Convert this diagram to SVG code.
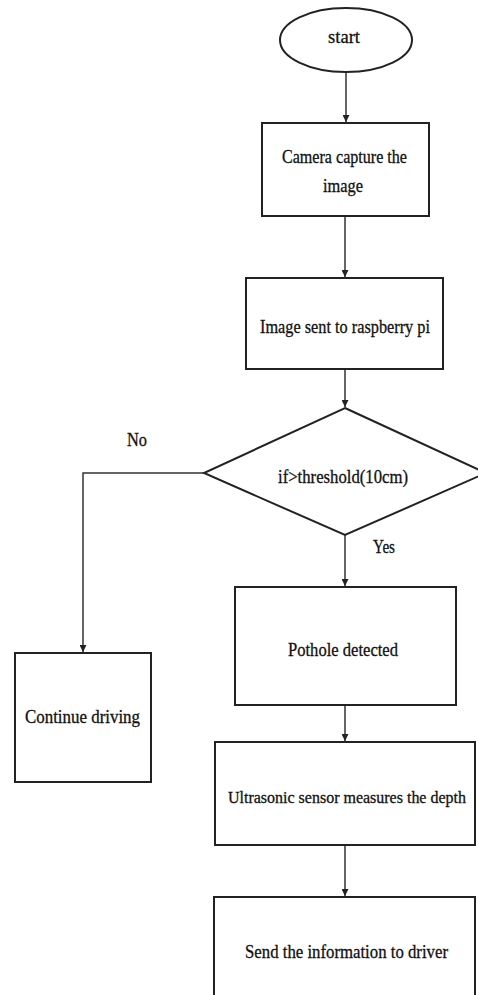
<svg xmlns="http://www.w3.org/2000/svg" width="478" height="995" viewBox="0 0 478 995">
<defs>
<marker id="arr" viewBox="0 0 10 10" refX="10" refY="5" markerWidth="7" markerHeight="7" markerUnits="userSpaceOnUse" orient="auto">
<path d="M0,0 L10,5 L0,10 z" fill="#222"/>
</marker>
<style>
.shape{fill:#fff;stroke:#222;stroke-width:2}
.conn{fill:none;stroke:#333;stroke-width:1.5}
text{font-family:"Liberation Serif","Times New Roman",serif;font-size:19px;fill:#111;stroke:#111;stroke-width:0.3}
</style>
</defs>
<rect width="478" height="995" fill="#fff"/>
<g id="connectors">
<line class="conn" x1="346" y1="72" x2="346" y2="122" marker-end="url(#arr)"/>
<line class="conn" x1="345" y1="216" x2="345" y2="277" marker-end="url(#arr)"/>
<line class="conn" x1="345" y1="370" x2="345" y2="407" marker-end="url(#arr)"/>
<line class="conn" x1="345" y1="535" x2="345" y2="586" marker-end="url(#arr)"/>
<line class="conn" x1="345" y1="705" x2="345" y2="741" marker-end="url(#arr)"/>
<line class="conn" x1="345" y1="845" x2="345" y2="896" marker-end="url(#arr)"/>
<polyline class="conn" points="204,473 83,473 83,652" marker-end="url(#arr)"/>
<text x="127" y="446" textLength="20" lengthAdjust="spacingAndGlyphs">No</text>
<text x="373" y="553" textLength="22" lengthAdjust="spacingAndGlyphs">Yes</text>
</g>
<g id="start">
<ellipse class="shape" cx="346" cy="40" rx="66" ry="32"/>
<text x="328" y="43" textLength="32" lengthAdjust="spacingAndGlyphs">start</text>
</g>
<g id="camera">
<rect class="shape" x="262" y="123" width="167" height="93"/>
<text x="282" y="163" textLength="125" lengthAdjust="spacingAndGlyphs">Camera capture the</text>
<text x="323" y="192" textLength="40" lengthAdjust="spacingAndGlyphs">image</text>
</g>
<g id="sent">
<rect class="shape" x="246" y="278" width="197" height="91"/>
<text x="260" y="333" textLength="170" lengthAdjust="spacingAndGlyphs">Image sent to raspberry pi</text>
</g>
<g id="decision">
<polygon class="shape" points="345,408 486,473 345,535 204,473"/>
<text x="278" y="483" textLength="130" lengthAdjust="spacingAndGlyphs">if&gt;threshold(10cm)</text>
</g>
<g id="pothole">
<rect class="shape" x="235" y="587" width="221" height="118"/>
<text x="288" y="656" textLength="110" lengthAdjust="spacingAndGlyphs">Pothole detected</text>
</g>
<g id="continue">
<rect class="shape" x="15" y="653" width="136" height="129"/>
<text x="25" y="723" textLength="115" lengthAdjust="spacingAndGlyphs">Continue driving</text>
</g>
<g id="ultrasonic">
<rect class="shape" x="215" y="742" width="260" height="103"/>
<text x="228" y="803" style="font-size:16.5px" textLength="238" lengthAdjust="spacingAndGlyphs">Ultrasonic sensor measures the depth</text>
</g>
<g id="send">
<rect class="shape" x="214" y="897" width="261" height="110"/>
<text x="245" y="958" textLength="203" lengthAdjust="spacingAndGlyphs">Send the information to driver</text>
</g>
</svg>
